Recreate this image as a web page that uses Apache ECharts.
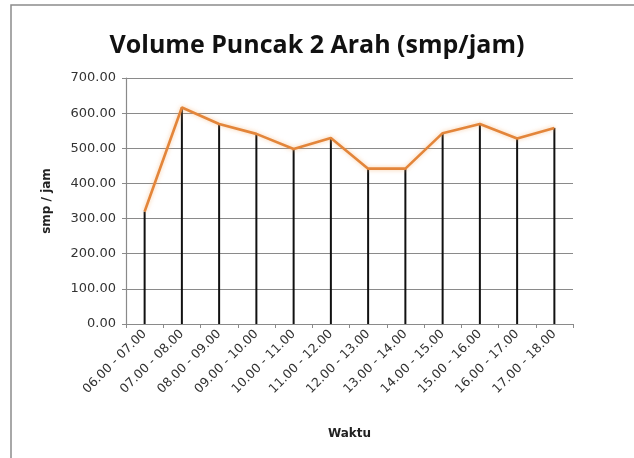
<!DOCTYPE html>
<html>
<head>
<meta charset="utf-8">
<script src="https://cdn.jsdelivr.net/npm/echarts@6/dist/echarts.min.js"></script>
<style>
  html, body { margin: 0; padding: 0; background: #ffffff; }
  #chart { width: 634px; height: 458px; }
</style>
</head>
<body>
<div id="chart"></div>
<script>
// Time-of-day periods (hour ranges)
const categories = [
  '06.00 - 07.00', '07.00 - 08.00', '08.00 - 09.00', '09.00 - 10.00',
  '10.00 - 11.00', '11.00 - 12.00', '12.00 - 13.00', '13.00 - 14.00',
  '14.00 - 15.00', '15.00 - 16.00', '16.00 - 17.00', '17.00 - 18.00'
];
// Two-way peak volume, smp/jam
const volume = [320, 616, 569, 541, 498, 529, 442, 442, 543, 569, 528, 558];
// Y-axis range
const yMin = 0, yMax = 700, yStep = 100;

const chart = echarts.init(document.getElementById('chart'));
chart.setOption({
  animation: false,
  backgroundColor: '#ffffff',
  graphic: [{
    type: 'rect',
    shape: { x: 11, y: 5, width: 640, height: 470 },
    style: { fill: 'none', stroke: '#8c8c8c', lineWidth: 1.5 },
    silent: true
  }],
  title: {
    text: 'Volume Puncak 2 Arah (smp/jam)',
    left: 'center',
    top: 28,
    textStyle: { fontFamily: 'Open Sans', fontWeight: 'bold', fontSize: 25, color: '#111' }
  },
  grid: { left: 126, right: 61, top: 78, bottom: 134 },
  xAxis: {
    type: 'category',
    data: categories,
    boundaryGap: true,
    name: 'Waktu',
    nameLocation: 'middle',
    nameGap: 104,
    nameTextStyle: { fontFamily: 'DejaVu Sans', fontWeight: 'bold', fontSize: 12, color: '#222' },
    axisLine: { lineStyle: { color: '#8a8a8a', width: 1.2 } },
    axisTick: { show: true, length: 4, lineStyle: { color: '#8a8a8a' } },
    axisLabel: { rotate: 45, fontFamily: 'DejaVu Sans', fontSize: 12.5, color: '#333', margin: 8 },
    splitLine: { show: false }
  },
  yAxis: {
    type: 'value',
    min: yMin, max: yMax, interval: yStep,
    name: 'smp / jam',
    nameLocation: 'middle',
    nameGap: 73,
    nameTextStyle: { fontFamily: 'DejaVu Sans', fontWeight: 'bold', fontSize: 12, color: '#222' },
    axisLine: { show: true, lineStyle: { color: '#8a8a8a', width: 1.2 } },
    axisTick: { show: true, length: 4, lineStyle: { color: '#8a8a8a' } },
    axisLabel: {
      fontFamily: 'DejaVu Sans', fontSize: 13, color: '#333', margin: 10,
      formatter: v => v.toFixed(2)
    },
    splitLine: { lineStyle: { color: '#8a8a8a', width: 1.2 } }
  },
  series: [
    {
      // vertical drop lines from each point to the axis
      type: 'bar',
      data: volume,
      barWidth: 2,
      itemStyle: { color: '#111' },
      z: 2
    },
    {
      type: 'line',
      data: volume,
      symbol: 'none',
      lineStyle: {
        color: '#E3853A', width: 2.6,
        shadowColor: 'rgba(245,170,100,0.6)', shadowBlur: 4
      },
      z: 3
    }
  ]
});
</script>
</body>
</html>
